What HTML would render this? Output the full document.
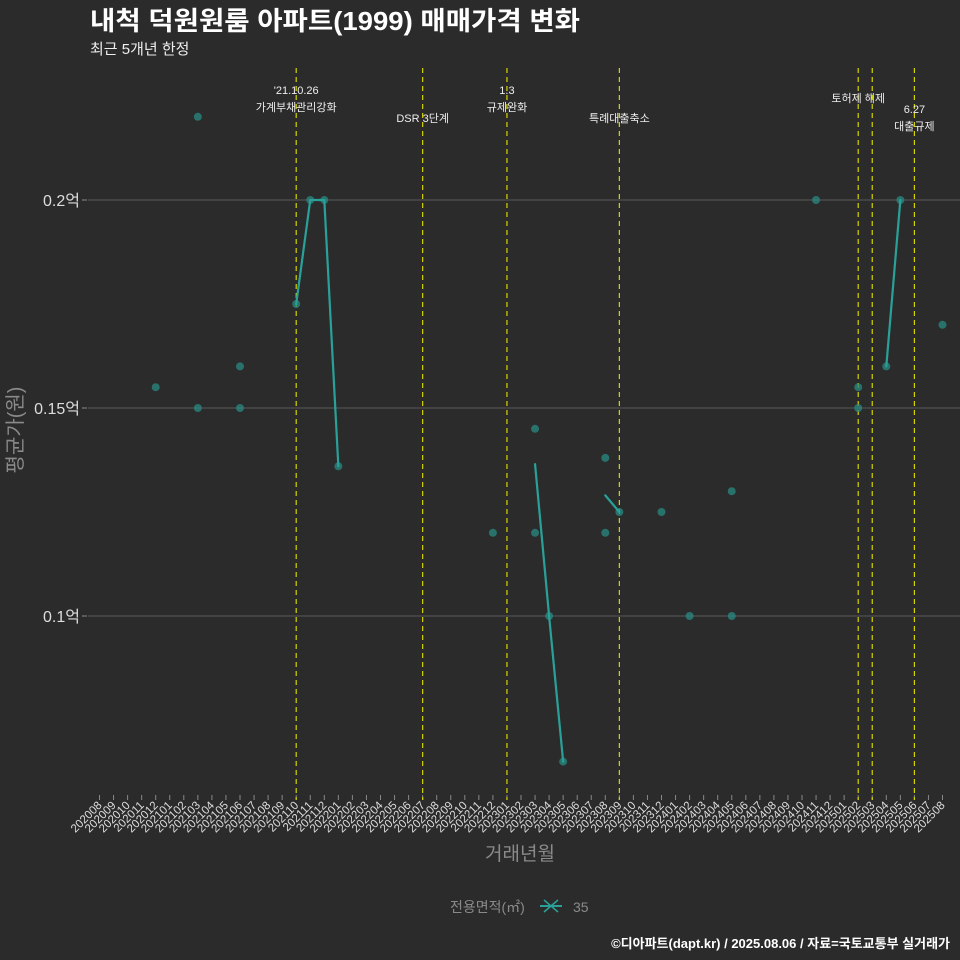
<!DOCTYPE html>
<html><head><meta charset="utf-8"><style>
html,body{margin:0;padding:0;background:#2b2b2c;}
svg{display:block;font-family:"Liberation Sans","Noto Sans CJK KR",sans-serif;}
</style></head><body>
<svg id="c" width="960" height="960" xmlns="http://www.w3.org/2000/svg">
<rect width="960" height="960" fill="#2b2b2c"/>
<text x="90" y="30" font-size="26" font-weight="bold" fill="#ffffff" textLength="490" lengthAdjust="spacingAndGlyphs">내척 덕원원룸 아파트(1999) 매매가격 변화</text>
<text x="90" y="54" font-size="15" fill="#eeeeee">최근 5개년 한정</text>
<text x="22" y="430" font-size="20" fill="#8a8a8a" text-anchor="middle" transform="rotate(-90 22 430)">평균가(원)</text>
<text x="520" y="860" font-size="19" fill="#8a8a8a" text-anchor="middle">거래년월</text>
<text x="450" y="912" font-size="14" fill="#8a8a8a">전용면적(㎡)</text>
<g>
<line x1="540" y1="906" x2="562" y2="906" stroke="#2aa198" stroke-width="2"/>
<line x1="544" y1="900" x2="558" y2="912" stroke="#2aa198" stroke-width="1.5"/>
<line x1="544" y1="912" x2="558" y2="900" stroke="#2aa198" stroke-width="1.5"/>
<text x="573" y="912" font-size="14" fill="#8a8a8a">35</text>
</g>
<text x="950" y="948" font-size="13" font-weight="bold" fill="#ffffff" text-anchor="end">©디아파트(dapt.kr) / 2025.08.06 / 자료=국토교통부 실거래가</text>
<g id="plot"></g>
</svg>
<script>
const months = [];
for (let y = 2020, m = 8; months.length < 61; ) { months.push(String(y) + String(m).padStart(2, '0')); m++; if (m > 12) { m = 1; y++; } }
const yTicks = [0.1, 0.15, 0.2];
const yTickLabels = ['0.1억', '0.15억', '0.2억'];
const dotMonths = ['202012','202103','202103','202106','202106','202110','202111','202112','202201','202212','202303','202303','202304','202305','202308','202308','202309','202312','202402','202405','202405','202411','202502','202502','202504','202505','202508'];
const dotValues = [0.155,0.22,0.15,0.16,0.15,0.175,0.2,0.2,0.136,0.12,0.145,0.12,0.1,0.065,0.138,0.12,0.125,0.125,0.1,0.13,0.1,0.2,0.155,0.15,0.16,0.2,0.17];
const lineMonths = ['202110','202111','202112','202201','202303','202304','202305','202308','202309','202504','202505'];
const lineValues = [0.175,0.2,0.2,0.136,0.1365,0.1,0.065,0.129,0.125,0.16,0.2];
const eventMonths = ['202110','202207','202301','202309','202502','202503','202506'];
const eventLabels = [["'21.10.26","가계부채관리강화"],["DSR 3단계"],["1.3","규제완화"],["특례대출축소"],["토허제 해제"],[],["6.27","대출규제"]];
const eventLabelY = [[94,111],[122],[94,111],[122],[102],[],[113,130]];

const NS = 'http://www.w3.org/2000/svg';
const plot = document.getElementById('plot');
const xS = m => 99.5 + 14.05 * months.indexOf(m);
const yS = v => 200 + (0.2 - v) * 4160;
function mk(tag, attrs, parent) { const e = document.createElementNS(NS, tag); for (const k in attrs) e.setAttribute(k, attrs[k]); (parent || plot).appendChild(e); return e; }

yTicks.forEach((v, i) => {
  const g = mk('line', {x1: 88, x2: 960, y1: yS(v), y2: yS(v), stroke: '#5a5a5a', 'stroke-width': 1});
  
  
  const t = mk('text', {x: 80, y: yS(v) + 6, 'font-size': 16, fill: '#dddddd', 'text-anchor': 'end'});
  t.textContent = yTickLabels[i];
  
  
  mk('line', {x1: 82, x2: 87, y1: yS(v), y2: yS(v), stroke: '#888'});
});
months.forEach(m => {
  const x = xS(m);
  mk('line', {x1: x, x2: x, y1: 795, y2: 800, stroke: '#888'});
  const t = mk('text', {x: x + 3, y: 806, 'font-size': 11.5, fill: '#dddddd', 'text-anchor': 'end', transform: `rotate(-45 ${x + 3} 806)`});
  t.textContent = m;
  
  
});
eventMonths.forEach((m, i) => {
  const x = xS(m);
  const l = mk('line', {x1: x, x2: x, y1: 68, y2: 800, stroke: '#d4d400', 'stroke-width': 1.2, 'stroke-dasharray': '5,4'});
  
  
  eventLabels[i].forEach((s, j) => {
    const t = mk('text', {x: x, y: eventLabelY[i][j], 'font-size': 11, fill: '#eeeeee', 'text-anchor': 'middle'});
    t.textContent = s;
    
    
  });
});
dotMonths.forEach((m, i) => {
  const c = mk('circle', {cx: xS(m), cy: yS(dotValues[i]), r: 4, fill: '#2a8a80', 'fill-opacity': 0.75});
  
  
});
for (let i = 1; i < lineMonths.length; i++) {
  const a = months.indexOf(lineMonths[i - 1]), b = months.indexOf(lineMonths[i]);
  if (b - a !== 1) continue;
  const l = mk('line', {x1: xS(lineMonths[i - 1]), y1: yS(lineValues[i - 1]), x2: xS(lineMonths[i]), y2: yS(lineValues[i]), stroke: '#2aa198', 'stroke-width': 2.2, 'stroke-linecap': 'round'});
  
  
}
</script>
</body></html>
